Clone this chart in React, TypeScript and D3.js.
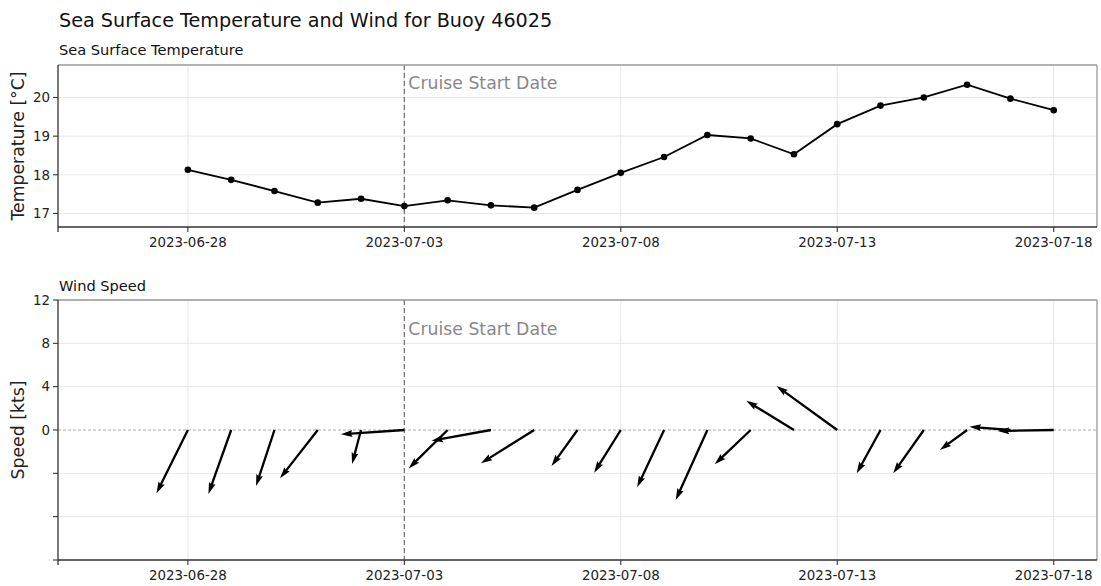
import * as d3 from "d3";

// daily observations, 2023-06-28 .. 2023-07-18
const dates = [
  "2023-06-28", "2023-06-29", "2023-06-30", "2023-07-01", "2023-07-02", "2023-07-03", "2023-07-04",
  "2023-07-05", "2023-07-06", "2023-07-07", "2023-07-08", "2023-07-09", "2023-07-10", "2023-07-11",
  "2023-07-12", "2023-07-13", "2023-07-14", "2023-07-15", "2023-07-16", "2023-07-17", "2023-07-18",
];
const sst = [
  18.13, 17.87, 17.58, 17.28, 17.38, 17.19, 17.34, 17.21, 17.15, 17.61, 18.05,
  18.46, 19.03, 18.94, 18.53, 19.31, 19.79, 20.0, 20.33, 19.97, 19.67,
];
// wind components in knots (east, north)
const windU = [
  -2.9, -2.1, -1.7, -3.48, -0.83, -5.85, -3.6, -5.48, -4.92, -2.4, -2.46,
  -2.49, -2.92, -3.32, -4.4, -5.6, -2.2, -2.83, -2.52, -3.78, -5.17,
];
const windV = [
  -5.85, -5.9, -5.17, -4.46, -3.14, -0.4, -3.55, -1.0, -3.08, -3.32, -3.94,
  -5.29, -6.46, -3.17, 2.7, 4.06, -4.0, -4.0, -1.85, 0.3, -0.09,
];
const xTicks = ["2023-06-28", "2023-07-03", "2023-07-08", "2023-07-13", "2023-07-18"];
const tempTicks = [17, 18, 19, 20];
const speedTicks = [-12, -8, -4, 0, 4, 8, 12];
const speedLabels = [0, 4, 8, 12];
const cruiseStart = "2023-07-03";

const W = 1101;
const H = 586;
const font = "DejaVu Sans, sans-serif";
const left = 58;
const right = 1097;
const top1 = 65, bot1 = 227;
const top2 = 300, bot2 = 560;

const parse = d3.utcParse("%Y-%m-%d");
const x = d3
  .scaleUtc()
  .domain([parse("2023-06-25")!, parse("2023-07-19")!])
  .range([left, right]);
const yT = d3.scaleLinear().domain([16.65, 20.84]).range([bot1, top1]);
const yS = d3.scaleLinear().domain([-12, 12]).range([bot2, top2]);

function Arrow({ x0, y0, u, v }: { x0: number; y0: number; u: number; v: number }) {
  const k = yS(0) - yS(1);
  const dx = u * k;
  const dy = -v * k;
  const L = Math.hypot(dx, dy);
  const w = 2.3;
  const ang = (Math.atan2(dy, dx) * 180) / Math.PI;
  const hl = Math.min(5 * w, L);
  const ha = Math.min(4.5 * w, L);
  const pts = [
    [0, -w / 2],
    [L - ha, -w / 2],
    [L - hl, -1.5 * w],
    [L, 0],
    [L - hl, 1.5 * w],
    [L - ha, w / 2],
    [0, w / 2],
  ];
  return (
    <polygon
      points={pts.map((p) => p.join(",")).join(" ")}
      transform={`translate(${x0},${y0}) rotate(${ang})`}
      fill="#000"
    />
  );
}

function Frame({ y0, y1 }: { y0: number; y1: number }) {
  return (
    <g>
      <line x1={left} x2={right} y1={y0} y2={y0} stroke="#999" strokeWidth={1.3} />
      <line x1={right} x2={right} y1={y0} y2={y1} stroke="#999" strokeWidth={1.3} />
      <line x1={left} x2={left} y1={y0} y2={y1} stroke="#333" strokeWidth={1.3} />
      <line x1={left} x2={right} y1={y1} y2={y1} stroke="#333" strokeWidth={1.3} />
      <line x1={left} x2={left} y1={y1} y2={y1 + 5} stroke="#333" strokeWidth={1.3} />
      {xTicks.map((t) => (
        <g key={t}>
          <line x1={x(parse(t)!)} x2={x(parse(t)!)} y1={y1} y2={y1 + 5} stroke="#333" strokeWidth={1.1} />
          <text
            x={x(parse(t)!)}
            y={y1 + 20}
            textAnchor="middle"
            fontSize={13.4}
            fill="#222"
          >
            {t}
          </text>
        </g>
      ))}
    </g>
  );
}

function Cruise({ y0, y1, ty }: { y0: number; y1: number; ty: number }) {
  const cx = x(parse(cruiseStart)!);
  return (
    <g>
      <line x1={cx} x2={cx} y1={y0} y2={y1} stroke="#777" strokeWidth={1.3} strokeDasharray="5,3" />
      <text x={cx + 4} y={ty} fontSize={17.3} fill="#888">
        Cruise Start Date
      </text>
    </g>
  );
}

export default function App() {
  const pts = dates.map((d, i) => ({ t: parse(d)!, v: sst[i] }));
  const line = d3
    .line<{ t: Date; v: number }>()
    .x((d) => x(d.t))
    .y((d) => yT(d.v));

  return (
    <svg
      width={W}
      height={H}
      style={{ position: "absolute", left: 0, top: 0, background: "#fff" }}
      fontFamily={font}
    >
      <rect width={W} height={H} fill="#fff" />
      <text x={59} y={27} fontSize={19.2} fill="#111">
        Sea Surface Temperature and Wind for Buoy 46025
      </text>

      {/* top panel: SST */}
      <text x={59} y={55} fontSize={14.6} fill="#111">
        Sea Surface Temperature
      </text>
      <g>
        {xTicks.map((t) => (
          <line key={t} x1={x(parse(t)!)} x2={x(parse(t)!)} y1={top1} y2={bot1} stroke="#e6e6e6" />
        ))}
        {tempTicks.map((t) => (
          <g key={t}>
            <line x1={left} x2={right} y1={yT(t)} y2={yT(t)} stroke="#e6e6e6" />
            <line x1={left - 5} x2={left} y1={yT(t)} y2={yT(t)} stroke="#333" strokeWidth={1.1} />
            <text x={left - 8} y={yT(t) + 4.8} textAnchor="end" fontSize={13.4} fill="#222">
              {t}
            </text>
          </g>
        ))}
      </g>
      <Cruise y0={top1} y1={bot1} ty={top1 + 24} />
      <path d={line(pts) ?? ""} fill="none" stroke="#000" strokeWidth={1.8} />
      {pts.map((p, i) => (
        <circle key={i} cx={x(p.t)} cy={yT(p.v)} r={3.3} fill="#000" />
      ))}
      <Frame y0={top1} y1={bot1} />
      <text
        transform={`translate(24,${(top1 + bot1) / 2}) rotate(-90)`}
        textAnchor="middle"
        fontSize={17.3}
        fill="#222"
      >
        Temperature [°C]
      </text>

      {/* bottom panel: wind */}
      <text x={59} y={291} fontSize={14.6} fill="#111">
        Wind Speed
      </text>
      <g>
        {xTicks.map((t) => (
          <line key={t} x1={x(parse(t)!)} x2={x(parse(t)!)} y1={top2} y2={bot2} stroke="#e6e6e6" />
        ))}
        {speedTicks.map((t) => (
          <g key={t}>
            {t !== 0 && <line x1={left} x2={right} y1={yS(t)} y2={yS(t)} stroke="#e6e6e6" />}
            <line x1={left - 5} x2={left} y1={yS(t)} y2={yS(t)} stroke="#333" strokeWidth={1.1} />
            {speedLabels.includes(t) && (
              <text x={left - 8} y={yS(t) + 4.8} textAnchor="end" fontSize={13.4} fill="#222">
                {t}
              </text>
            )}
          </g>
        ))}
        <line
          x1={left}
          x2={right}
          y1={yS(0)}
          y2={yS(0)}
          stroke="#aaa"
          strokeWidth={1}
          strokeDasharray="3,2"
        />
      </g>
      <Cruise y0={top2} y1={bot2} ty={top2 + 35} />
      {dates.map((d, i) => (
        <Arrow key={d} x0={x(parse(d)!)} y0={yS(0)} u={windU[i]} v={windV[i]} />
      ))}
      <Frame y0={top2} y1={bot2} />
      <text
        transform={`translate(24,${(top2 + bot2) / 2}) rotate(-90)`}
        textAnchor="middle"
        fontSize={17.3}
        fill="#222"
      >
        Speed [kts]
      </text>
    </svg>
  );
}
